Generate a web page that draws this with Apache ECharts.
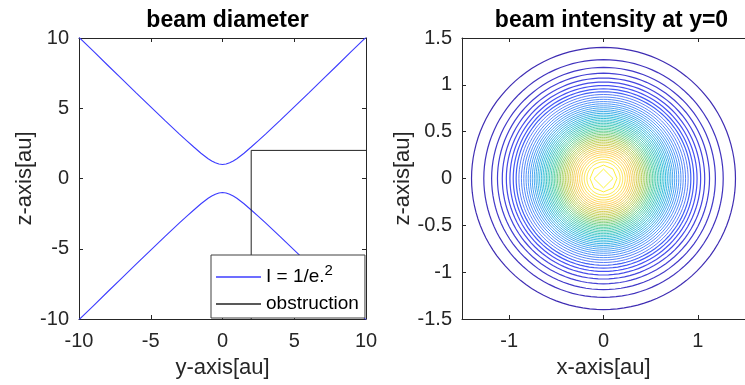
<!DOCTYPE html>
<html><head><meta charset="utf-8">
<script src="https://cdn.jsdelivr.net/npm/echarts@6/dist/echarts.min.js"></script>
<style>html,body{margin:0;padding:0;background:#fff}#c{width:745px;height:385px}</style>
</head><body><div id="c"></div>
<script>
// ---- data ----
const beamY = [-10,-9,-8,-7,-6,-5,-4,-3,-2.5,-2,-1.5,-1,-0.75,-0.5,-0.25,0,0.25,0.5,0.75,1,1.5,2,2.5,3,4,5,6,7,8,9,10];
const beamUpper = [10.05,9.06,8.06,7.07,6.08,5.10,4.12,3.16,2.69,2.24,1.80,1.41,1.25,1.12,1.03,1.00,1.03,1.12,1.25,1.41,1.80,2.24,2.69,3.16,4.12,5.10,6.08,7.07,8.06,9.06,10.05];
const beamLower = [-10.05,-9.06,-8.06,-7.07,-6.08,-5.10,-4.12,-3.16,-2.69,-2.24,-1.80,-1.41,-1.25,-1.12,-1.03,-1.00,-1.03,-1.12,-1.25,-1.41,-1.80,-2.24,-2.69,-3.16,-4.12,-5.10,-6.08,-7.07,-8.06,-9.06,-10.05];
const obstructionY = [2, 2, 10];
const obstructionZ = [-10, 2, 2];
const contourLevels = [0.02,0.04,0.06,0.08,0.10,0.12,0.14,0.16,0.18,0.20,0.22,0.24,0.26,0.28,0.30,0.32,0.34,0.36,0.38,0.40,0.42,0.44,0.46,0.48,0.50,0.52,0.54,0.56,0.58,0.60,0.62,0.64,0.66,0.68,0.70,0.72,0.74,0.76,0.78,0.80,0.82,0.84,0.86,0.88,0.90,0.92,0.94,0.96,0.98];
const contourRadii = [1.399,1.269,1.186,1.124,1.073,1.030,0.992,0.957,0.926,0.897,0.870,0.845,0.821,0.798,0.776,0.755,0.734,0.715,0.696,0.677,0.659,0.641,0.623,0.606,0.589,0.572,0.555,0.538,0.522,0.505,0.489,0.472,0.456,0.439,0.422,0.405,0.388,0.370,0.353,0.334,0.315,0.295,0.275,0.253,0.230,0.204,0.176,0.143,0.101];
const rightXTicks = [-1, 0, 1];

// ---- styles ----
const parulaStops = [[0.2422,0.1504,0.6603],[0.2810,0.3228,0.9579],[0.1786,0.5289,0.9682],[0.0689,0.6948,0.8394],[0.2161,0.7843,0.5923],[0.6720,0.7793,0.2227],[0.9970,0.7659,0.2199],[0.9769,0.9839,0.0805]];
function parula(v){
  v = Math.max(0, Math.min(1, v));
  const p = v * (parulaStops.length - 1);
  const i = Math.min(Math.floor(p), parulaStops.length - 2);
  const f = p - i;
  const a = parulaStops[i], b = parulaStops[i+1];
  const c = a.map((x,k)=>Math.round(255*(x + (b[k]-x)*f)));
  return 'rgb(' + c.join(',') + ')';
}
const FONT = "'Liberation Sans', Arial, Helvetica, sans-serif";
const AX = '#262626';
function axisBase(extra){
  return Object.assign({
    type: 'value',
    splitLine: {show: false},
    axisLine: {show: true, onZero: false, lineStyle: {color: AX, width: 1}},
    axisTick: {show: true, inside: true, length: 4, lineStyle: {color: AX}},
    axisLabel: {show: true, color: AX, fontSize: 20, fontFamily: FONT, margin: 10},
    nameTextStyle: {color: AX, fontSize: 22, fontFamily: FONT}
  }, extra);
}
function hideLabels(ax){ ax.axisLabel = Object.assign({}, ax.axisLabel, {show: false}); return ax; }
const xLabel = (extra) => Object.assign({show: true, color: AX, fontSize: 20, fontFamily: FONT, margin: 12}, extra || {});

const chart = echarts.init(document.getElementById('c'), null, {renderer: 'canvas'});
chart.setOption({
  backgroundColor: '#fff',
  animation: false,
  title: [
    {text: 'beam diameter', left: 222.5, top: 4, textAlign: 'center', textStyle: {fontSize: 23, fontWeight: 'bold', color: '#000', fontFamily: FONT}},
    {text: 'beam intensity at y=0', left: 606.5, top: 4, textAlign: 'center', textStyle: {fontSize: 23, fontWeight: 'bold', color: '#000', fontFamily: FONT}}
  ],
  grid: [
    {left: 79, top: 38, width: 287, height: 281},
    {left: 462, top: 38, width: 289, height: 281}
  ],
  xAxis: [
    axisBase({gridIndex: 0, position: 'bottom', min: -10, max: 10, interval: 5, axisLabel: xLabel(), name: 'y-axis[au]', nameLocation: 'middle', nameGap: 38}),
    hideLabels(axisBase({gridIndex: 0, position: 'top', min: -10, max: 10, interval: 5})),
    axisBase({gridIndex: 1, position: 'bottom', min: -1.5, max: 1.5, interval: 0.5,
      axisLabel: xLabel({customValues: rightXTicks}),
      axisTick: {show: true, inside: true, length: 4, lineStyle: {color: AX}, customValues: rightXTicks},
      name: 'x-axis[au]', nameLocation: 'middle', nameGap: 38}),
    hideLabels(axisBase({gridIndex: 1, position: 'top', min: -1.5, max: 1.5, interval: 0.5,
      axisTick: {show: true, inside: true, length: 4, lineStyle: {color: AX}, customValues: rightXTicks}}))
  ],
  yAxis: [
    axisBase({gridIndex: 0, position: 'left', min: -10, max: 10, interval: 5, name: 'z-axis[au]', nameLocation: 'middle', nameGap: 42}),
    hideLabels(axisBase({gridIndex: 0, position: 'right', min: -10, max: 10, interval: 5})),
    axisBase({gridIndex: 1, position: 'left', min: -1.5, max: 1.5, interval: 0.5, name: 'z-axis[au]', nameLocation: 'middle', nameGap: 46})
  ],
  legend: {
    left: 211, top: 255, orient: 'vertical',
    backgroundColor: '#fff', borderColor: '#404040', borderWidth: 1, borderRadius: 0,
    padding: [8, 6, 3, 5], itemGap: 5, itemWidth: 45, itemHeight: 1.5, icon: 'rect',
    data: ['I = 1/e.^2', 'obstruction'],
    formatter: function(n){ return n === 'I = 1/e.^2' ? '{a|I = 1/e.}{s|2}' : '{a|' + n + '}'; },
    textStyle: {color: '#000', fontFamily: FONT, fontSize: 19, lineHeight: 22,
      rich: {a: {fontSize: 19, fontFamily: FONT, color: '#000', lineHeight: 22},
             s: {fontSize: 15, fontFamily: FONT, color: '#000', verticalAlign: 'bottom', padding: [0,0,10,0], lineHeight: 15}}}
  },
  series: [
    {name: 'I = 1/e.^2', type: 'line', xAxisIndex: 0, yAxisIndex: 0, symbol: 'none', clip: true,
      lineStyle: {color: '#3c3cff', width: 1.1}, itemStyle: {color: '#3c3cff'},
      data: beamY.map((y,i)=>[y, beamUpper[i]])},
    {name: 'I = 1/e.^2', type: 'line', xAxisIndex: 0, yAxisIndex: 0, symbol: 'none', clip: true,
      lineStyle: {color: '#3c3cff', width: 1.1}, itemStyle: {color: '#3c3cff'},
      data: beamY.map((y,i)=>[y, beamLower[i]])},
    {name: 'obstruction', type: 'line', xAxisIndex: 0, yAxisIndex: 0, symbol: 'none', clip: false,
      lineStyle: {color: '#222', width: 1}, itemStyle: {color: '#222'},
      data: obstructionY.map((y,i)=>[y, obstructionZ[i]])},
    {name: 'contours', type: 'custom', coordinateSystem: 'cartesian2d', xAxisIndex: 2, yAxisIndex: 2,
      data: contourRadii.map((r,i)=>[r, contourLevels[i]]),
      renderItem: function(params, api){
        const r = api.value(0), lv = api.value(1);
        const n = r < 0.12 ? 4 : (r < 0.16 ? 8 : 120);
        const pts = [];
        for (let k = 0; k < n; k++){
          const t = 2*Math.PI*k/n;
          pts.push(api.coord([r*Math.cos(t), r*Math.sin(t)]));
        }
        return {type: 'polygon', shape: {points: pts},
          style: {fill: 'none', stroke: parula(lv), lineWidth: r > 0.9 ? 1.2 : 1.0, opacity: r > 0.9 ? 1 : 0.85}};
      }}
  ]
});
</script></body></html>
